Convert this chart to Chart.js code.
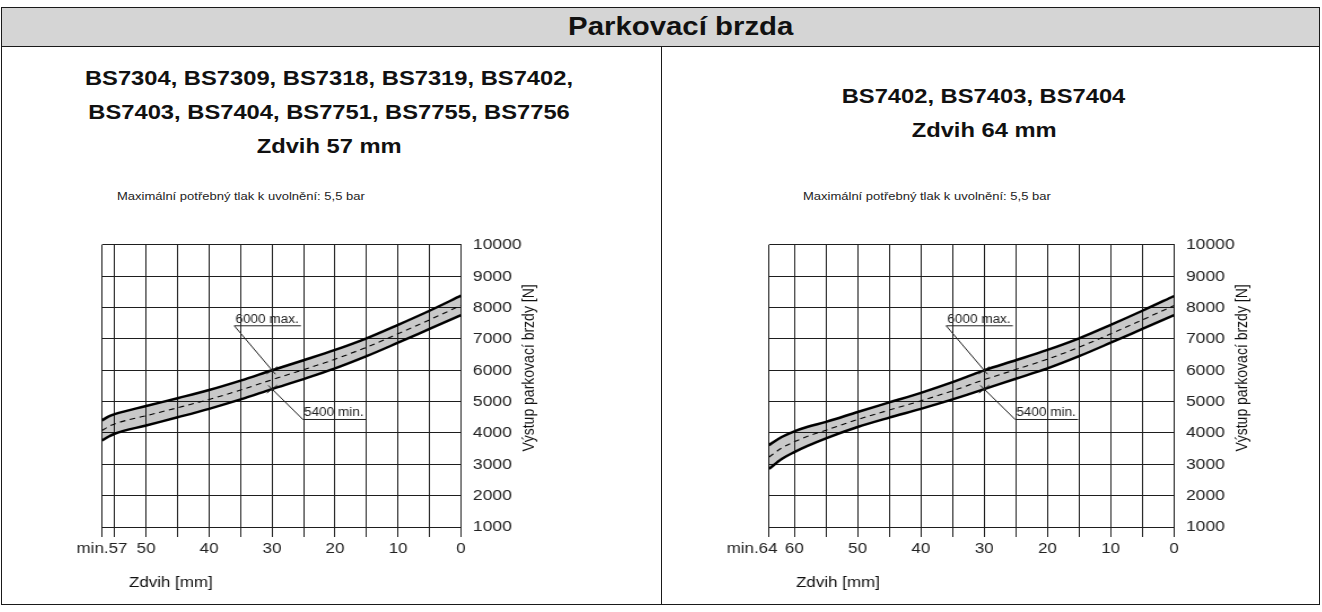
<!DOCTYPE html>
<html lang="cs">
<head>
<meta charset="utf-8">
<title>Parkovací brzda</title>
<script src="https://cdn.jsdelivr.net/npm/chart.js@4/dist/chart.umd.min.js"></script>
<style>
  html, body { margin: 0; padding: 0; background: #fff; }
  body { width: 1322px; height: 612px; position: relative; overflow: hidden;
         font-family: "Liberation Sans", Arial, Helvetica, sans-serif; color: #111; }
  .abs { position: absolute; box-sizing: border-box; }
  /* the whole sheet uses a slightly widened type face */
  .wide { display: inline-block; transform: scaleX(1.13); transform-origin: 50% 50%; white-space: nowrap; }
  .wideL { display: inline-block; transform: scaleX(1.13); transform-origin: 0 50%; white-space: nowrap; }
  #header { left: 1px; top: 7px; width: 1319px; height: 40px; background: #d5d5d5;
            border: 1px solid #1a1a1a; }
  #headerText { left: 481px; top: 7px; width: 400px; text-align: center; line-height: 39px;
                font-size: 26px; font-weight: bold; color: #111; }
  #frame { left: 1px; top: 46px; width: 1319px; height: 559px; border: 1px solid #1a1a1a; border-top: none; }
  #divider { left: 661px; top: 46px; width: 1px; height: 559px; background: #1a1a1a; }
  .heading { text-align: center; font-size: 21px; font-weight: bold; line-height: 34px; color: #111; }
  .note { font-size: 11.5px; color: #222; }
  canvas.chart { position: absolute; }
</style>
</head>
<body>
<div id="header" class="abs"></div>
<div id="headerText" class="abs"><span class="wide" id="titleSpan"></span></div>
<div id="frame" class="abs"></div>
<div id="divider" class="abs"></div>
<div id="headLeft" class="abs heading" style="left:0px; top:61px; width:658px;"></div>
<div id="headRight" class="abs heading" style="left:654px; top:79px; width:660px;"></div>
<div id="noteLeft" class="abs note" style="left:117px; top:190px;"><span class="wideL" id="noteL"></span></div>
<div id="noteRight" class="abs note" style="left:803px; top:190px;"><span class="wideL" id="noteR"></span></div>
<canvas id="chartLeft" class="chart" width="549" height="375" style="left:20px; top:225px; width:620px; height:375px;"></canvas>
<canvas id="chartRight" class="chart" width="549" height="375" style="left:688px; top:225px; width:620px; height:375px;"></canvas>

<script>
// ---- texts ----
const TITLE = 'Parkovací brzda';
const LEFT_HEADINGS = ['BS7304, BS7309, BS7318, BS7319, BS7402,', 'BS7403, BS7404, BS7751, BS7755, BS7756', 'Zdvih 57 mm'];
const RIGHT_HEADINGS = ['BS7402, BS7403, BS7404', 'Zdvih 64 mm'];
const NOTE = 'Maximální potřebný tlak k uvolnění: 5,5 bar';
const X_TITLE = 'Zdvih [mm]';
const Y_TITLE = 'Výstup parkovací brzdy [N]';
const MAX_LABEL = '6000 max.';
const MIN_LABEL = '5400 min.';

// ---- force axis (N) ----
const Y_TICKS = [1000, 2000, 3000, 4000, 5000, 6000, 7000, 8000, 9000, 10000];

// ---- stroke 57 mm ----
const LEFT_X_TICKS  = [57, 55, 50, 45, 40, 35, 30, 25, 20, 15, 10, 5, 0];
const LEFT_X_LABELS = ['min.57', '', '50', '', '40', '', '30', '', '20', '', '10', '', '0'];
const LEFT_STROKE = [57, 56, 55, 50, 45, 40, 35, 30, 25, 20, 15, 10, 5, 0];
const LEFT_UPPER  = [4400, 4520, 4600, 4860, 5110, 5370, 5670, 6000, 6320, 6650, 7020, 7450, 7900, 8380];
const LEFT_NOMINAL= [4080, 4200, 4290, 4550, 4805, 5070, 5370, 5700, 6020, 6355, 6735, 7165, 7610, 8070];
const LEFT_LOWER  = [3760, 3880, 3975, 4240, 4500, 4770, 5070, 5400, 5720, 6060, 6450, 6880, 7320, 7760];

// ---- stroke 64 mm ----
const RIGHT_X_TICKS  = [64, 60, 55, 50, 45, 40, 35, 30, 25, 20, 15, 10, 5, 0];
const RIGHT_X_LABELS = ['min.64\u2003\u2003', '60', '', '50', '', '40', '', '30', '', '20', '', '10', '', '0'];
const RIGHT_STROKE = [64, 62, 60, 58, 55, 50, 45, 40, 35, 30, 25, 20, 15, 10, 5, 0];
const RIGHT_UPPER  = [3612, 3870, 4054, 4190, 4355, 4670, 4975, 5280, 5620, 6000, 6320, 6650, 7020, 7450, 7900, 8370];
const RIGHT_NOMINAL= [3230, 3520, 3720, 3885, 4090, 4430, 4730, 5025, 5345, 5700, 6025, 6355, 6735, 7165, 7610, 8065];
const RIGHT_LOWER  = [2854, 3170, 3390, 3580, 3830, 4190, 4490, 4770, 5070, 5400, 5730, 6060, 6450, 6880, 7320, 7760];

// ---- tolerance marks at 30 mm ----
const MARK_STROKE = 30;
const MARK_MAX = 6000;
const MARK_MIN = 5400;

// ---- static page text ----
document.getElementById('titleSpan').textContent = TITLE;
document.getElementById('headLeft').innerHTML = LEFT_HEADINGS.map(t => '<div><span class="wide">' + t + '</span></div>').join('');
document.getElementById('headRight').innerHTML = RIGHT_HEADINGS.map(t => '<div><span class="wide">' + t + '</span></div>').join('');
document.getElementById('noteL').textContent = NOTE;
document.getElementById('noteR').textContent = NOTE;

const FONT = '"Liberation Sans", Arial, Helvetica, sans-serif';
Chart.defaults.font.family = FONT;
Chart.defaults.color = '#222';

// canvases are drawn narrow and shown widened, so page px -> canvas px
const CANVAS_W = 549, SHOWN_W = 620;
const K = CANVAS_W / SHOWN_W;

// axis captions: stroke title under the axis, force title rotated beside the right axis
const captionPlugin = {
  id: 'captions',
  afterDraw(chart) {
    const { ctx, chartArea: a } = chart;
    ctx.save();
    ctx.fillStyle = '#111';
    ctx.font = '15px ' + FONT;
    ctx.textAlign = 'left';
    ctx.textBaseline = 'middle';
    ctx.fillText(X_TITLE, a.left + 27 * K, a.bottom + 56);
    ctx.font = '14px ' + FONT;
    ctx.translate(a.right + 69 * K, (a.top + a.bottom) / 2 - 18);
    ctx.rotate(-Math.PI / 2);
    ctx.textAlign = 'center';
    ctx.fillText(Y_TITLE, 0, 0);
    ctx.restore();
  }
};

// leader lines with underlined labels pointing at the max / min marks
const leaderPlugin = {
  id: 'leaders',
  afterDatasetsDraw(chart, args, opts) {
    const { ctx } = chart;
    const xs = chart.scales.x, ys = chart.scales.y;
    ctx.save();
    ctx.font = '12px ' + FONT;
    ctx.textBaseline = 'alphabetic';
    ctx.textAlign = 'left';
    const drawOne = (label, ax, ay, vx, vy) => {
      const lx = xs.getPixelForValue(ax), ly = ys.getPixelForValue(ay);
      const px = xs.getPixelForValue(vx), py = ys.getPixelForValue(vy);
      const w = ctx.measureText(label).width;
      ctx.fillStyle = '#222';
      ctx.fillText(label, lx + 1, ly - 3);
      ctx.strokeStyle = '#222';
      ctx.lineWidth = 1;
      ctx.beginPath();
      ctx.moveTo(lx, ly);
      ctx.lineTo(lx + w + 3, ly);
      // leader into the mark, running a few px past it
      const dx = px - lx, dy = py - ly, len = Math.hypot(dx, dy);
      const ux = dx / len, uy = dy / len;
      ctx.moveTo(lx, ly);
      ctx.lineTo(px + ux * 5, py + uy * 5);
      // short cross stroke
      ctx.moveTo(px - uy * 6, py + ux * 6);
      ctx.lineTo(px + uy * 6, py - ux * 6);
      ctx.stroke();
    };
    drawOne(MAX_LABEL, opts.maxAt[0], opts.maxAt[1], MARK_STROKE, MARK_MAX);
    drawOne(MIN_LABEL, opts.minAt[0], opts.minAt[1], MARK_STROKE, MARK_MIN);
    ctx.restore();
  }
};

function points(xs, ys) { return xs.map((x, i) => ({ x: x, y: ys[i] })); }

// plotLeft / plotRight are page-px offsets of the plot frame inside the canvas
function makeChart(id, stroke, upper, nominal, lower, xTicks, xLabels, xMax, plotLeft, plotRight) {
  const GRID = '#1e1e1e';
  const yAxisW = 100 * K;
  const pad = {
    left: plotLeft * K,
    right: CANVAS_W - plotRight * K - yAxisW,
    top: 17,
    bottom: 23
  };
  const curve = { pointRadius: 0, cubicInterpolationMode: 'monotone', fill: false };
  return new Chart(document.getElementById(id), {
    type: 'line',
    data: {
      datasets: [
        Object.assign({}, curve, { data: points(stroke, upper), borderColor: '#000', borderWidth: 2.5,
          backgroundColor: 'rgba(0,0,0,0.21)', fill: '+1' }),
        Object.assign({}, curve, { data: points(stroke, lower), borderColor: '#000', borderWidth: 2.5 }),
        Object.assign({}, curve, { data: points(stroke, nominal), borderColor: '#000', borderWidth: 1.1,
          borderDash: [5, 4] })
      ]
    },
    options: {
      responsive: false,
      animation: false,
      devicePixelRatio: 1,
      layout: { padding: pad },
      plugins: {
        legend: { display: false },
        tooltip: { enabled: false },
        leaders: { maxAt: [36, 7420], minAt: [25.1, 4430] }
      },
      scales: {
        x: {
          type: 'linear', reverse: true, min: 0, max: xMax,
          afterBuildTicks(scale) { scale.ticks = xTicks.map(v => ({ value: v })); },
          afterFit(scale) { scale.height = 50; },
          grid: { color: GRID, lineWidth: 1, drawTicks: true, tickLength: 10, tickColor: GRID },
          border: { color: GRID, width: 1 },
          ticks: {
            autoSkip: false, maxRotation: 0, minRotation: 0, padding: 3,
            font: { size: 15 }, color: '#222',
            callback: (v, i) => xLabels[i]
          }
        },
        y: {
          type: 'linear', position: 'right', min: 1000, max: 10000,
          afterBuildTicks(scale) { scale.ticks = Y_TICKS.map(v => ({ value: v })); },
          afterFit(scale) { scale.width = yAxisW; },
          grid: { color: GRID, lineWidth: 1, drawTicks: false },
          border: { color: GRID, width: 1 },
          ticks: { padding: 12 * K, font: { size: 15.5 }, color: '#222',
                   callback: v => String(v) }
        }
      }
    },
    plugins: [captionPlugin, leaderPlugin]
  });
}

makeChart('chartLeft', LEFT_STROKE, LEFT_UPPER, LEFT_NOMINAL, LEFT_LOWER,
          LEFT_X_TICKS, LEFT_X_LABELS, 57, 82, 441);
makeChart('chartRight', RIGHT_STROKE, RIGHT_UPPER, RIGHT_NOMINAL, RIGHT_LOWER,
          RIGHT_X_TICKS, RIGHT_X_LABELS, 64, 81, 486);
</script>
</body>
</html>
